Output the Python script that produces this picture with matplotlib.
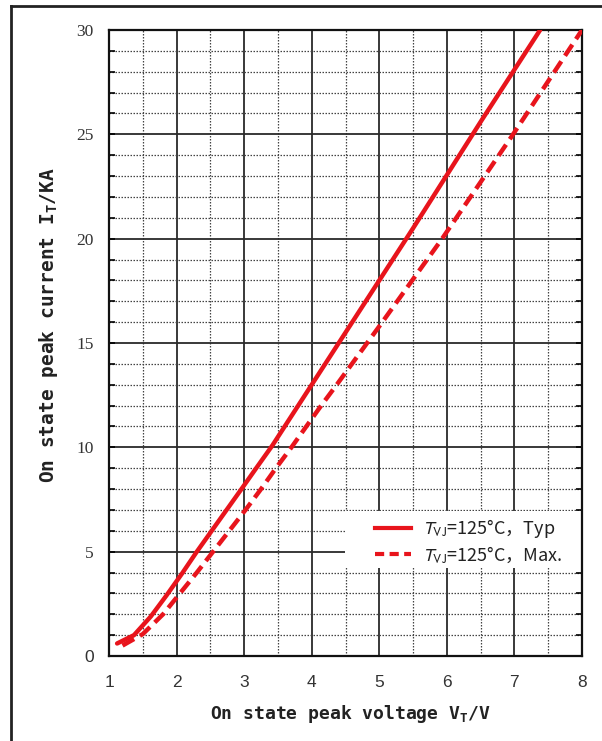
import matplotlib
matplotlib.use("Agg")
import matplotlib.pyplot as plt
from matplotlib.lines import Line2D
from matplotlib.patches import Rectangle
from matplotlib.font_manager import FontProperties

plt.rcParams['mathtext.fontset'] = 'custom'
plt.rcParams['mathtext.rm'] = 'DejaVu Sans Mono:bold'
plt.rcParams['mathtext.it'] = 'DejaVu Sans Mono:bold'
plt.rcParams['mathtext.bf'] = 'DejaVu Sans Mono:bold'

# ---- data ----
typ_v = [1.12, 1.37, 1.62, 1.85, 2.08, 2.3, 2.52, 2.74, 2.96, 3.2, 3.42, 3.7, 4.0, 4.5, 5.0, 5.5, 6.0, 6.5, 7.0, 7.38]
typ_i = [0.6, 1.0, 1.9, 2.9, 3.95, 5.0, 6.0, 7.0, 8.0, 9.1, 10.1, 11.5, 13.0, 15.5, 18.0, 20.5, 23.05, 25.6, 28.1, 30]
max_v = [1.2, 1.5, 1.8, 2.05, 2.3, 2.54, 2.78, 3.02, 3.25, 3.47, 3.7, 3.92, 4.14, 4.37, 4.82, 5.0, 5.93, 6.98, 8.0]
max_i = [0.5, 1.05, 2.0, 3.0, 4.0, 5.0, 6.0, 7.0, 8.0, 9.0, 10, 11, 12, 13, 15, 15.8, 20, 25, 30]
x_ticks = [1, 2, 3, 4, 5, 6, 7, 8]
y_ticks = [0, 5, 10, 15, 20, 25, 30]
label_typ = r"$\it{T}_{\rm{VJ}}$=125°C，Typ"
label_max = r"$\it{T}_{\rm{VJ}}$=125°C，Max."
xlabel = r"On state peak voltage V$_{\rm{T}}$/V"
ylabel = r"On state peak current I$_{\rm{T}}$/KA"

RED = '#e8141c'

fig = plt.figure(figsize=(6.02, 7.41), dpi=100)
ax = fig.add_axes([109/602, 1-656/741, (582-109)/602, (656-30)/741])

# outer frame (top and left edges)
fig.add_artist(Line2D([11/602, 1.0], [1-6/741, 1-6/741], color='#222', lw=2, transform=fig.transFigure))
fig.add_artist(Line2D([11/602, 11/602], [0, 1-6/741], color='#222', lw=2, transform=fig.transFigure))

ax.plot(typ_v, typ_i, color=RED, lw=3.2, solid_capstyle='round', solid_joinstyle='round', zorder=3)
ax.plot(max_v, max_i, color=RED, lw=3.2, linestyle=(0, (3.0, 1.5)), dash_joinstyle='round', zorder=3)

ax.set_xlim(1, 8)
ax.set_ylim(0, 30)
ax.set_xticks(x_ticks)
ax.set_yticks(y_ticks)
ax.set_xticks([v + 0.5 for v in x_ticks[:-1]], minor=True)
ax.set_yticks([v for v in range(0, 31) if v % 5 != 0], minor=True)

ax.grid(which='major', color='#2a2a2a', lw=1.3, linestyle='-')
ax.grid(which='minor', color='#444', lw=0.9, linestyle=(0, (1.2, 1.2)))
ax.set_axisbelow(True)

for s in ax.spines.values():
    s.set_linewidth(1.6)
    s.set_color('#111')

ax.tick_params(which='both', direction='in', length=4, width=1.2, right=True, top=False)
ax.tick_params(axis='x', which='both', length=0, pad=14)
ax.tick_params(axis='y', which='major', pad=11)

for t in ax.get_yticklabels():
    t.set_fontfamily('Liberation Serif')
    t.set_fontsize(12.5)
    t.set_color('#333')
for t in ax.get_xticklabels():
    t.set_fontfamily(['Liberation Sans Narrow', 'Liberation Sans'])
    t.set_fontsize(12.5)
    t.set_color('#333')
ax.get_yticklabels()[0].set_fontfamily(['Liberation Sans Narrow', 'Liberation Sans'])

ax.set_xlabel(xlabel, fontfamily='DejaVu Sans Mono', fontweight='bold', fontsize=13, color='#222')
ax.xaxis.set_label_coords(0.51, -0.075)
ax.set_ylabel(ylabel, fontfamily='DejaVu Sans Mono', fontweight='bold', fontsize=14, color='#222')
ax.yaxis.set_label_coords(-0.104, 0.529)

# legend background box
ax.add_patch(Rectangle(((345-109)/473, (656-568)/626), (581-345)/473, (568-511)/626,
                       transform=ax.transAxes, facecolor='white', edgecolor='none', zorder=2))

lp = FontProperties(family='Noto Sans CJK SC', size=13)
lp.set_math_fontfamily('stixsans')
h1 = Line2D([], [], color=RED, lw=3)
h2 = Line2D([], [], color=RED, lw=3, linestyle=(0, (2.2, 1.3)))
leg = ax.legend([h1, h2], [label_typ, label_max], loc='upper left',
                bbox_to_anchor=((375-109)/473, (656-517)/626),
                borderaxespad=0, borderpad=0, prop=lp, frameon=False, handlelength=2.0,
                handletextpad=0.6, labelspacing=0.22)
leg.set_zorder(4)
for t in leg.get_texts():
    t.set_color('#222')

fig.savefig('out.png', dpi=100)
